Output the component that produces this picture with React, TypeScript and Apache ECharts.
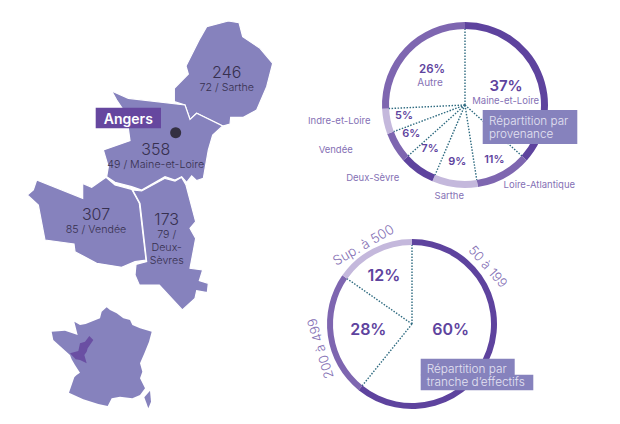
import React, { useEffect, useRef } from "react";
import * as echarts from "echarts";

// ---- data ----
const regionNames = ["Sarthe", "Maine-et-Loire", "Vendée", "Deux-Sèvres"];
const regionCounts = [246, 358, 307, 173];
const regionCaptions = [["72 / Sarthe"], ["49 / Maine-et-Loire"], ["85 / Vendée"], ["79 /", "Deux-", "Sèvres"]];

const provenanceNames = ["Maine-et-Loire", "Loire-Atlantique", "Sarthe", "Deux-Sèvre", "Vendée", "Indre-et-Loire", "Autre"];
const provenanceShares = [37, 11, 9, 7, 6, 5, 26];

const trancheNames = ["50 à 199", "200 à 499", "Sup. à 500"];
// printed percentages
const trancheShares = [60, 28, 12];
// arcs as the reference actually draws them (measured on its ring; they differ a little from the printed values)
const trancheArcs = [60.8, 23.9, 15.3];

// map outlines, traced in picture pixels (x, y), x3 scale
const sartheOutline = [[620,80],[685,63],[717,68],[728,110],[780,145],[818,190],[800,260],[770,330],[730,352],[692,352],[690,372],[668,378],[590,340],[570,358],[555,315],[523,305],[523,265],[565,222],[558,198],[600,115]];
const maineOutline = [[335,273],[385,295],[555,315],[570,358],[590,340],[668,378],[638,405],[625,450],[610,535],[590,542],[575,528],[560,547],[545,530],[525,540],[495,530],[425,570],[395,560],[345,547],[320,530],[325,500],[310,450],[390,422],[385,385],[370,330],[350,300]];
const vendeeOutline = [[110,540],[248,595],[248,550],[275,562],[318,532],[345,555],[395,568],[418,610],[438,780],[405,785],[365,802],[290,790],[225,755],[222,732],[135,720],[115,615],[82,585],[100,570]];
const sevresOutline = [[398,570],[425,573],[495,535],[525,543],[545,532],[558,555],[587,665],[570,685],[587,715],[570,805],[608,810],[598,842],[625,850],[622,878],[590,872],[585,895],[547,930],[478,855],[418,855],[405,825],[408,793],[440,785],[420,610]];
const franceOutline = [[305,935],[320,922],[330,930],[350,940],[370,955],[390,960],[397,975],[420,985],[455,995],[447,1025],[433,1060],[420,1090],[427,1115],[420,1135],[435,1165],[420,1185],[397,1195],[360,1190],[335,1195],[323,1218],[295,1212],[250,1198],[207,1178],[223,1132],[230,1125],[240,1118],[225,1095],[215,1078],[210,1065],[160,1020],[155,995],[195,992],[233,1005],[223,965],[240,975],[257,972],[300,955]];
const corseOutline = [[450,1172],[453,1205],[445,1225],[433,1192]];
const paysLoireOutline = [[268,1008],[280,1020],[263,1045],[260,1055],[253,1065],[260,1090],[240,1080],[227,1078],[210,1060],[235,1053],[240,1030],[255,1025]];

const cityCoord = [527 / 3, -398 / 3];

// ---- palette ----
const mapFill = "#8682BD";
const dark = "#5E439E";
const medium = "#7E66B0";
const light = "#C4B8DC";
const softText = "#8571B5";
const boldText = "#5E439E";
const inkText = "#37304F";
const spoke = "#2F6B80";
const font = "Inter";

const toGeo = (ring: number[][]) => ring.map(([x, y]) => [x / 3, -y / 3]);

function feature(name: string, ring: number[][], cp?: number[]) {
  return {
    type: "Feature",
    properties: cp ? { name, cp } : { name },
    geometry: { type: "Polygon", coordinates: [toGeo(ring).concat([toGeo(ring)[0]])] },
  };
}

const labelCentres = [[226.7, -78.3], [155.7, -155], [96, -220], [166.7, -238.3]];
const outlines = [sartheOutline, maineOutline, vendeeOutline, sevresOutline];

const geoJson: any = {
  type: "FeatureCollection",
  features: [
    ...regionNames.map((n, i) => feature(n, outlines[i], labelCentres[i])),
    feature("France", franceOutline),
    feature("Corse", corseOutline),
    feature("Zone", paysLoireOutline),
  ],
};

function ring(values: number[], colors: string[], center: number[], radius: number[]) {
  return {
    type: "pie",
    silent: true,
    center,
    radius,
    startAngle: 90,
    clockwise: true,
    label: { show: false },
    labelLine: { show: false },
    z: 3,
    data: values.map((value, i) => ({ value, itemStyle: { color: colors[i] } })),
  };
}

function spokes(values: number[], center: number[], length: number) {
  const total = values.reduce((a, b) => a + b, 0);
  let acc = 0;
  const bounds = values.map((v) => {
    const start = acc;
    acc += v;
    return [start / total];
  });
  return {
    type: "custom",
    coordinateSystem: "none",
    silent: true,
    z: 2,
    data: bounds,
    renderItem: (_p: any, api: any) => {
      const a = api.value(0) * Math.PI * 2;
      return {
        type: "line",
        shape: {
          x1: center[0],
          y1: center[1],
          x2: center[0] + Math.sin(a) * length,
          y2: center[1] - Math.cos(a) * length,
        },
        style: { stroke: spoke, lineWidth: 1.4, lineDash: [1.5, 1.5], fill: null },
      };
    },
  };
}

function text(t: string, x: number, y: number, size: number, weight: number, fill: string, extra: any = {}) {
  const { align, rotation } = extra;
  return {
    type: "text",
    x,
    y,
    rotation: rotation || 0,
    z: 10,
    silent: true,
    style: {
      text: t,
      fill,
      font: `${weight} ${size}px ${font}`,
      align: align || "center",
      verticalAlign: "middle",
    },
  };
}

const rect = (x: number, y: number, width: number, height: number, fill: string) => ({
  type: "rect",
  z: 9,
  silent: true,
  shape: { x, y, width, height },
  style: { fill },
});

const deg = (d: number) => (d * Math.PI) / 180;

export default function App() {
  const ref = useRef<HTMLDivElement>(null);

  useEffect(() => {
    document.body.style.margin = "0";
    echarts.registerMap("zone", geoJson);
    const chart = echarts.init(ref.current!, undefined, { renderer: "svg" });
    chart.setOption({
      animation: false,
      backgroundColor: "#ffffff",
      geo: {
        map: "zone",
        silent: true,
        roam: false,
        aspectScale: 1,
        boundingCoords: [[0, 0], [620, -424]],
        left: 0,
        top: 0,
        width: 620,
        height: 424,
        itemStyle: { areaColor: mapFill, borderColor: "#ffffff", borderWidth: 1.2 },
        label: {
          show: true,
          formatter: (p: any) => {
            const i = regionNames.indexOf(p.name);
            if (i < 0) return "";
            return [`{n|${regionCounts[i]}}`, ...regionCaptions[i].map((c) => `{s|${c}}`)].join("\n");
          },
          rich: {
            n: { fontFamily: font, fontSize: 16, fontWeight: 300, color: inkText, lineHeight: 18, align: "center" },
            s: { fontFamily: font, fontSize: 10.7, fontWeight: 300, color: inkText, lineHeight: 13, align: "center" },
          },
        },
        regions: [
          { name: "France", itemStyle: { borderWidth: 0 } },
          { name: "Corse", itemStyle: { borderWidth: 0 } },
          { name: "Zone", itemStyle: { areaColor: "#6A4FA3", borderWidth: 0 } },
        ],
      },
      series: [
        {
          type: "scatter",
          coordinateSystem: "geo",
          silent: true,
          symbolSize: 11,
          itemStyle: { color: "#1F1B22" },
          z: 4,
          data: [cityCoord],
        },
        spokes(provenanceShares, [465, 105], 78),
        ring(provenanceShares, [dark, medium, light, dark, medium, light, medium], [465, 105], [76, 83]),
        spokes(trancheArcs, [412, 324], 80),
        ring(trancheArcs, [dark, medium, light], [412, 324], [79, 85]),
      ],
      graphic: [
        rect(95.7, 107.7, 65.3, 20.6, "#66479F"),
        text("Angers", 128.3, 118.5, 14, 600, "#ffffff"),

        text(`${provenanceShares[0]}%`, 506, 85.5, 15, 600, boldText),
        text(provenanceNames[0], 505.7, 100.5, 9.5, 400, softText),
        text(`${provenanceShares[6]}%`, 432, 69, 11.5, 600, boldText),
        text(provenanceNames[6], 430, 81.7, 10, 400, softText),
        text(`${provenanceShares[5]}%`, 404, 115, 11, 600, boldText),
        text(`${provenanceShares[4]}%`, 411.3, 132.7, 11, 600, boldText),
        text(`${provenanceShares[3]}%`, 430, 148.3, 11, 600, boldText),
        text(`${provenanceShares[2]}%`, 457.3, 160.7, 11, 600, boldText),
        text(`${provenanceShares[1]}%`, 494.3, 159, 11, 600, boldText),
        text(provenanceNames[5], 339.3, 120.7, 9.5, 400, softText),
        text(provenanceNames[4], 335.7, 149, 9.5, 400, softText),
        text(provenanceNames[3], 372.7, 177.3, 9.5, 400, softText),
        text(provenanceNames[2], 449.3, 195, 9.5, 400, softText),
        text(provenanceNames[1], 539.3, 184.3, 9.5, 400, softText),

        rect(482.7, 110, 94.6, 34, mapFill),
        text("Répartition par", 489, 121, 11.7, 300, "#E4E2F2", { align: "left" }),
        text("provenance", 489, 134.3, 11.7, 300, "#E4E2F2", { align: "left" }),

        text(`${trancheShares[2]}%`, 384, 275.3, 16, 600, boldText),
        text(`${trancheShares[1]}%`, 368.3, 328.7, 16, 600, boldText),
        text(`${trancheShares[0]}%`, 450.7, 328.7, 16, 600, boldText),
        text(trancheNames[0], 488.3, 266.3, 13, 300, softText, { rotation: deg(-48.6) }),
        text(trancheNames[2], 363.3, 244.7, 13.5, 300, softText, { rotation: deg(30) }),
        text(trancheNames[1], 320, 348.7, 13, 300, softText, { rotation: deg(107) }),

        rect(420.7, 358.7, 94, 16.5, mapFill),
        rect(420.7, 374.7, 112.6, 15.6, mapFill),
        text("Répartition par", 426.7, 368.7, 11.8, 300, "#E4E2F2", { align: "left" }),
        text("tranche d’effectifs", 426.7, 382, 11.8, 300, "#E4E2F2", { align: "left" }),
      ],
    });
    return () => chart.dispose();
  }, []);

  return <div ref={ref} style={{ width: 620, height: 424, overflow: "hidden" }} />;
}
